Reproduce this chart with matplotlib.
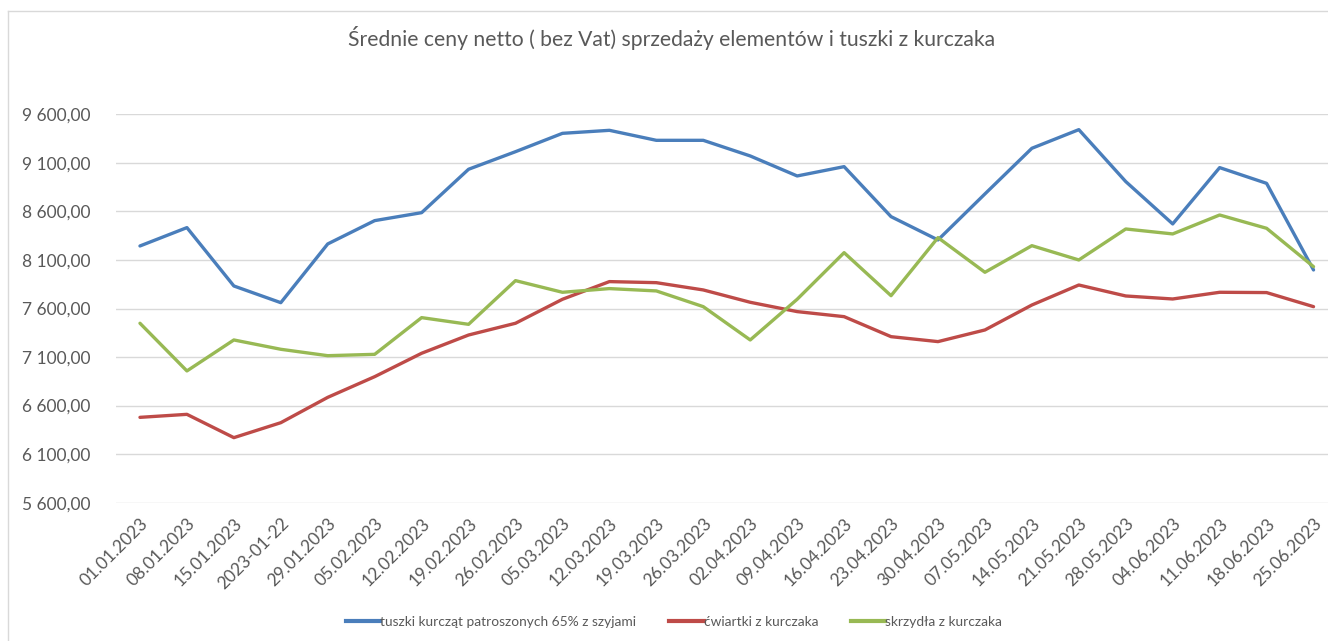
import matplotlib
matplotlib.use("Agg")
import matplotlib.pyplot as plt
from matplotlib.ticker import FuncFormatter, FixedLocator
from matplotlib.lines import Line2D

dates = ["01.01.2023", "08.01.2023", "15.01.2023", "2023-01-22", "29.01.2023",
         "05.02.2023", "12.02.2023", "19.02.2023", "26.02.2023", "05.03.2023",
         "12.03.2023", "19.03.2023", "26.03.2023", "02.04.2023", "09.04.2023",
         "16.04.2023", "23.04.2023", "30.04.2023", "07.05.2023", "14.05.2023",
         "21.05.2023", "28.05.2023", "04.06.2023", "11.06.2023", "18.06.2023",
         "25.06.2023"]

tuszki = [8244, 8433, 7832, 7660, 8265, 8505, 8587, 9034, 9215, 9404,
          9435, 9332, 9332, 9171, 8965, 9061, 8546, 8306, 8780, 9250,
          9442, 8907, 8471, 9051, 8889, 7997]
cwiartki = [6479, 6510, 6270, 6424, 6685, 6898, 7139, 7327, 7448, 7695,
            7877, 7866, 7791, 7664, 7568, 7516, 7310, 7259, 7379, 7636,
            7842, 7729, 7698, 7767, 7764, 7619]
skrzydla = [7448, 6957, 7276, 7180, 7114, 7128, 7506, 7437, 7887, 7767,
            7805, 7781, 7619, 7276, 7695, 8175, 7732, 8330, 7973, 8247,
            8100, 8419, 8368, 8563, 8426, 8031]

series_names = ["tuszki kurcząt patroszonych 65% z szyjami",
                "ćwiartki z kurczaka", "skrzydła z kurczaka"]
colors = ["#4A7EBB", "#BE4B48", "#98B954"]
title = "Średnie ceny netto ( bez Vat) sprzedaży elementów i tuszki z kurczaka"
yticks = [5600, 6100, 6600, 7100, 7600, 8100, 8600, 9100, 9600]

plt.rcParams['font.family'] = ['Lato', 'DejaVu Sans']
W, H = 1328, 641
fig = plt.figure(figsize=(W / 100, H / 100), dpi=100)
fig.patch.set_facecolor("white")

# chart border (left and top only visible)
fig.add_artist(Line2D([7.5 / W, 7.5 / W], [0, 1 - 10.5 / H], transform=fig.transFigure,
                      color="#D9D9D9", lw=1.0))
fig.add_artist(Line2D([7.5 / W, 1], [1 - 10.5 / H, 1 - 10.5 / H], transform=fig.transFigure,
                      color="#D9D9D9", lw=1.0))

left_px, right_px = 116.5, 1337.0
top_px, bot_px = 114.3, 502.7
ax = fig.add_axes([left_px / W, 1 - bot_px / H, (right_px - left_px) / W, (bot_px - top_px) / H])

x = list(range(len(dates)))
for vals, c in zip([tuszki, cwiartki, skrzydla], colors):
    ax.plot(x, vals, color=c, lw=2.4, solid_joinstyle="round", solid_capstyle="round", zorder=3)

ax.set_xlim(-0.5, len(dates) - 0.5)
ax.set_ylim(yticks[0], yticks[-1])
ax.yaxis.set_major_locator(FixedLocator(yticks))


def fmt(v, pos):
    s = f"{v:,.2f}"
    return s.replace(",", " ").replace(".", ",")


ax.yaxis.set_major_formatter(FuncFormatter(fmt))
ax.grid(axis="y", color="#D9D9D9", lw=1.0)
ax.set_axisbelow(True)
for s in ax.spines.values():
    s.set_visible(False)
ax.tick_params(axis="both", length=0, colors="#595959", labelsize=12.5)
ax.tick_params(axis="y", pad=19)
ax.set_xticks(x)
ax.set_xticklabels(dates, rotation=45, ha="right", rotation_mode="anchor", fontsize=12.5,
                   color="#595959")
ax.tick_params(axis="x", pad=9)

fig.text(672 / W, 1 - 38 / H, title, ha="center", va="center", fontsize=15.2, color="#595959")

handles = [Line2D([], [], color=c, lw=3) for c in colors]
fig.legend(handles, series_names, loc="center", bbox_to_anchor=(674 / W, 1 - 622 / H),
           ncol=3, frameon=False, fontsize=9.9, handlelength=2.5, handletextpad=0.0,
           columnspacing=2.4, labelcolor="#595959")

fig.savefig("out.png", dpi=100, facecolor="white")
